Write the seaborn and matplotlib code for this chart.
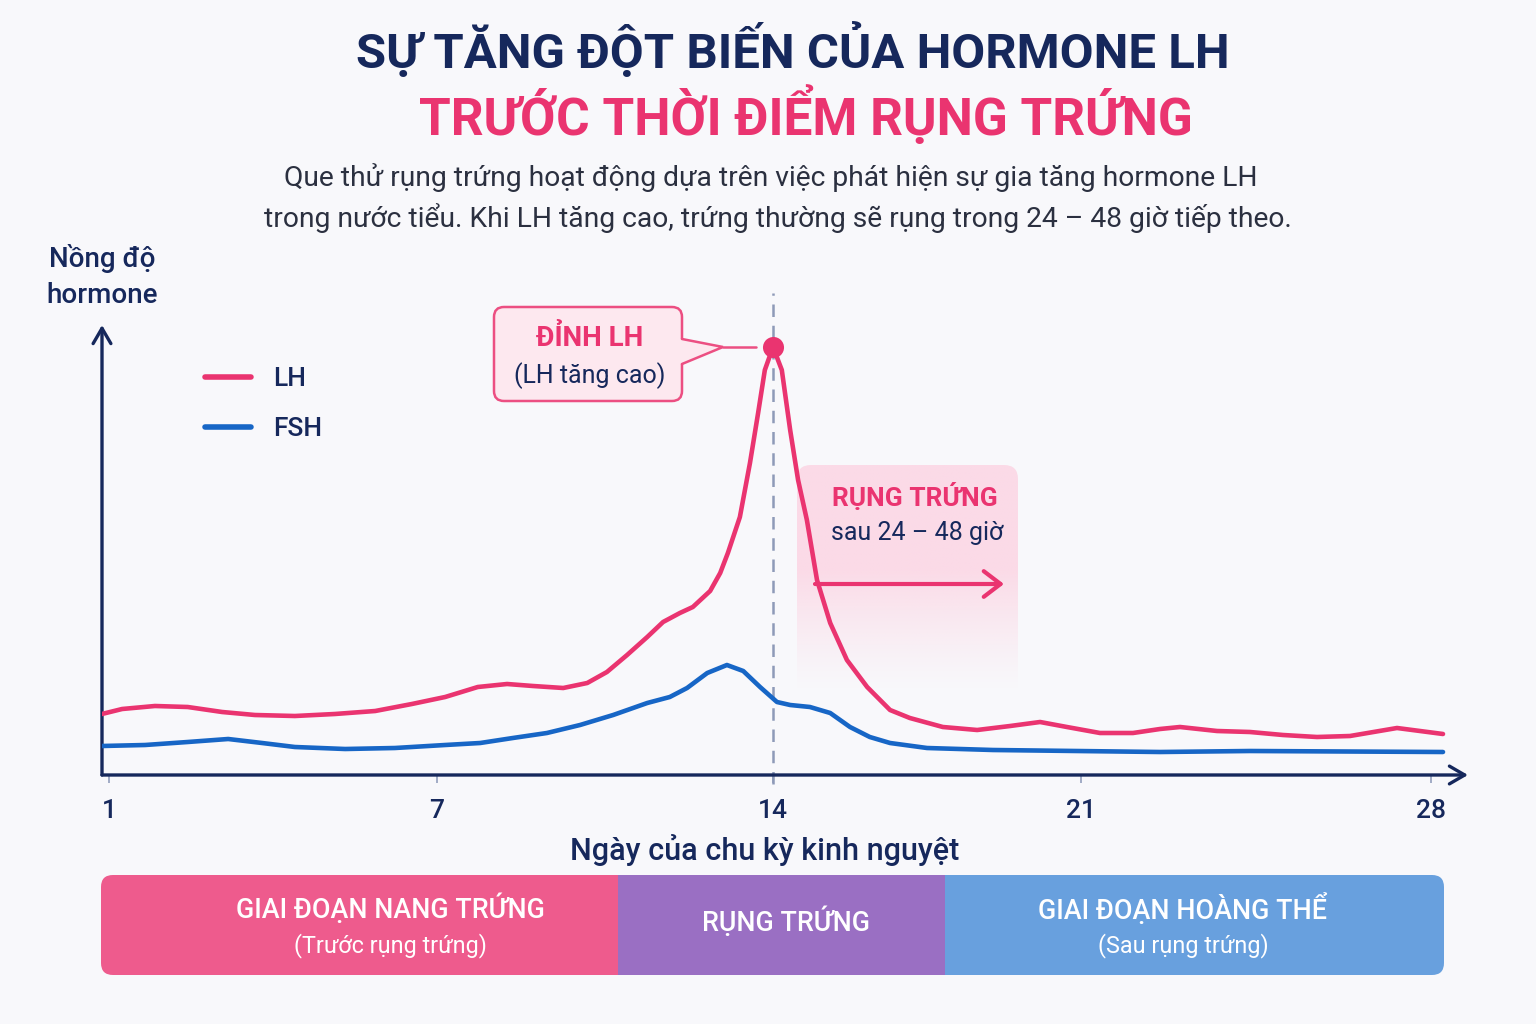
import numpy as np
import pandas as pd
import matplotlib
matplotlib.use("Agg")
import matplotlib.pyplot as plt
import matplotlib.colors as mcolors
import seaborn as sns
from matplotlib.patches import FancyBboxPatch, Polygon, Rectangle
from matplotlib.lines import Line2D

# ---------------- data ----------------
lh_days = [0.87, 1.24, 1.84, 2.44, 3.07, 3.67, 4.40, 5.13, 5.87, 6.54,
           7.17, 7.85, 8.46, 9.0, 9.63, 10.13, 10.54, 10.96, 11.38, 11.71,
           12.06, 12.33, 12.69, 12.90, 13.06, 13.31, 13.52, 13.69, 13.83, 14.0,
           14.20, 14.39, 14.57, 14.77, 15.0, 15.30, 15.68, 16.14, 16.66, 17.11,
           17.86, 18.64, 19.39, 20.07, 20.68, 21.38, 22.04, 22.58, 22.98, 23.72,
           24.38, 25.04, 25.72, 26.38, 27.32, 28.24]
lh_level = [61, 66, 69, 68, 63, 60, 59, 61, 64, 71,
            78, 88, 91, 89, 87, 92, 103, 120, 138, 153,
            162, 168, 184, 202, 222, 258, 312, 362, 405, 428,
            405, 345, 295, 255, 195, 152, 115, 88, 65, 57,
            48, 45, 49, 53, 48, 42, 42, 46, 48, 44,
            43, 40, 38, 39, 47, 41]
fsh_days = [0.87, 1.66, 2.44, 3.18, 3.80, 4.40, 5.32, 6.23, 7.17, 7.90,
            8.58, 9.29, 9.98, 10.67, 11.38, 11.85, 12.21, 12.63, 13.04, 13.38,
            13.73, 14.09, 14.39, 14.84, 15.30, 15.75, 16.20, 16.66, 17.50, 19.0,
            22.58, 24.38, 28.24]
fsh_level = [29, 30, 33, 36, 32, 28, 26, 27, 30, 32,
             37, 42, 50, 60, 72, 78, 87, 102, 110, 104,
             88, 73, 70, 68, 62, 48, 38, 32, 27, 25,
             23, 24, 23]
hormones = ["LH", "FSH"]
tick_days = [1, 7, 14, 21, 28]
tick_labels = ["1", "7", "14", "21", "28"]
peak_day = 14

title_line1 = "SỰ TĂNG ĐỘT BIẾN CỦA HORMONE LH"
title_line2 = "TRƯỚC THỜI ĐIỂM RỤNG TRỨNG"
subtitle_lines = [
    "Que thử rụng trứng hoạt động dựa trên việc phát hiện sự gia tăng hormone LH",
    "trong nước tiểu. Khi LH tăng cao, trứng thường sẽ rụng trong 24 – 48 giờ tiếp theo.",
]
y_label = "Nồng độ\nhormone"
x_label = "Ngày của chu kỳ kinh nguyệt"
peak_title, peak_sub = "ĐỈNH LH", "(LH tăng cao)"
ov_title, ov_sub = "RỤNG TRỨNG", "sau 24 – 48 giờ"
phase_titles = ["GIAI ĐOẠN NANG TRỨNG", "RỤNG TRỨNG", "GIAI ĐOẠN HOÀNG THỂ"]
phase_subtitles = ["(Trước rụng trứng)", "", "(Sau rụng trứng)"]

# ---------------- style ----------------
NAVY = "#16285c"
PINK = "#ea3470"
BLUE = "#1766c6"
BG = "#f8f8fb"
TXT = "#2b3040"
PHASE_COLORS = ["#ee5b8d", "#9a6fc3", "#68a0de"]

sns.set_theme(style="white")
plt.rcParams["font.family"] = ["Roboto", "DejaVu Sans"]

W, H = 1536, 1024
fig = plt.figure(figsize=(W / 100, H / 100), dpi=100, facecolor=BG)

# overlay axes in pixel coordinates (for decorations / layout)
ov = fig.add_axes([0, 0, 1, 1], zorder=0)
ov.set_autoscale_on(False)
ov.set_xlim(0, W)
ov.set_ylim(H, 0)
ov.axis("off")

# main chart axes
AX_L, AX_R, AX_B, AX_T = 102, 1468, 775, 325
ax = fig.add_axes([AX_L / W, 1 - AX_B / H, (AX_R - AX_L) / W, (AX_B - AX_T) / H], zorder=2)
ax.patch.set_alpha(0)

# the reference's day axis is not evenly spaced: piecewise-linear scale through the ticks
TICK_PX = [109, 437, 773, 1081, 1431]
_kd = np.array([0.0] + tick_days + [29.0])
_kp = np.array([TICK_PX[0] - 54.67] + TICK_PX + [TICK_PX[-1] + 50.0])


def fwd(x):
    return np.interp(x, _kd, _kp)


def inv(p):
    return np.interp(p, _kp, _kd)


ax.set_xscale("function", functions=(fwd, inv))

df = pd.concat([
    pd.DataFrame({"day": lh_days, "level": lh_level, "hormone": hormones[0]}),
    pd.DataFrame({"day": fsh_days, "level": fsh_level, "hormone": hormones[1]}),
])
palette = {"LH": PINK, "FSH": BLUE}
sns.lineplot(data=df, x="day", y="level", hue="hormone", palette=palette,
             estimator=None, sort=True, linewidth=3.3, legend=False, ax=ax, zorder=4)
for ln in ax.get_lines():
    ln.set_solid_joinstyle("round")
    ln.set_solid_capstyle("round")

ax.set_xlim(inv(AX_L), inv(AX_R))
ax.set_ylim(0, AX_B - AX_T)

# peak marker + dashed day-14 line
i_peak = int(np.argmax(lh_level))
ax.scatter([lh_days[i_peak]], [lh_level[i_peak]], s=230, color=PINK, zorder=6, linewidths=0)
ax.axvline(peak_day, ymin=-0.02, ymax=1.072, clip_on=False, color="#8e9ab8",
           lw=1.8, ls=(0, (5, 3.5)), zorder=1)

# axes: arrows instead of spines
for s in ax.spines.values():
    s.set_visible(False)
arrow_kw = dict(arrowstyle="->,head_length=0.55,head_width=0.32", color=NAVY, lw=2.4,
                shrinkA=0, shrinkB=0, mutation_scale=20)
ax.annotate("", xy=(1, 0), xytext=(0, 0), xycoords="axes fraction", arrowprops=arrow_kw)
ax.annotate("", xy=(0, 1), xytext=(0, 0), xycoords="axes fraction", arrowprops=arrow_kw)

ax.set_xticks(tick_days, tick_labels)
ax.set_yticks([])
ax.tick_params(axis="x", bottom=True, length=6, width=1.3, color="#9aa6c2", pad=11,
               labelsize=19, labelcolor=NAVY)
for t in ax.get_xticklabels():
    t.set_fontweight("medium")
ax.minorticks_off()

ax.set_xlabel(x_label, fontsize=22, color=NAVY, fontweight="medium", va="center")
ax.xaxis.set_label_coords((765 - AX_L) / (AX_R - AX_L), (AX_B - 850) / (AX_B - AX_T))
ax.set_ylabel(y_label, rotation=0, fontsize=20, color=NAVY, fontweight="medium",
              ha="center", va="bottom", linespacing=1.45)
ax.yaxis.set_label_coords(0, (AX_B - 309) / (AX_B - AX_T))

# legend
handles = [Line2D([0], [0], color=palette[h], lw=4, solid_capstyle="round") for h in hormones]
leg = ax.legend(handles, hormones, loc="upper left", frameon=False,
                bbox_to_anchor=(205 / W, 1 - 367 / H), bbox_transform=fig.transFigure,
                borderaxespad=0, borderpad=0, handlelength=1.75, handletextpad=0.85,
                labelspacing=1.0, fontsize=19)
for t in leg.get_texts():
    t.set_color(NAVY)
    t.set_fontweight("medium")

# ---------------- titles ----------------
ov.text(793, 50, title_line1, ha="center", va="center", fontsize=35.4, fontweight="bold", color=NAVY)
ov.text(806, 116, title_line2, ha="center", va="center", fontsize=37, fontweight="bold", color=PINK)
ov.text(771, 178, subtitle_lines[0], ha="center", va="center", fontsize=20.3, color=TXT)
ov.text(778, 218, subtitle_lines[1], ha="center", va="center", fontsize=20.3, color=TXT)

# ---------------- LH peak callout ----------------
cb = FancyBboxPatch((494, 307), 188, 94, boxstyle="round,pad=0,rounding_size=10",
                    fc="#fde8ef", ec="#ec4f82", lw=1.8, zorder=3)
ov.add_patch(cb)
ov.add_patch(Polygon([(680, 339), (723, 347), (680, 364)], closed=True, fc="#fde8ef",
                     ec="none", zorder=4))
ov.plot([682, 723, 682], [339, 347, 364], color="#ec4f82", lw=1.8, zorder=5,
        solid_joinstyle="miter")
ov.plot([723, 756], [347, 347], color="#ec4f82", lw=1.8, zorder=5)
ov.text(590, 339, peak_title, ha="center", va="center", fontsize=20, fontweight="bold",
        color=PINK, zorder=6)
ov.text(590, 376, peak_sub, ha="center", va="center", fontsize=18, color=NAVY, zorder=6)

# ---------------- ovulation box (fading) ----------------
bx0, bx1, by0, by1 = 797, 1018, 465, 690
n = 200
ys = np.linspace(by0, by1, n)
alpha = np.clip((by1 - ys) / (by1 - 570), 0, 1) ** 1.2 * 0.8
grad = np.zeros((n, 1, 4))
grad[..., :3] = mcolors.to_rgb("#fcd3e2")
grad[:, 0, 3] = alpha
im = ov.imshow(grad, extent=[bx0, bx1, by1, by0], aspect="auto", origin="upper",
               interpolation="bilinear", zorder=1)
clip = FancyBboxPatch((bx0, by0), bx1 - bx0, 400, boxstyle="round,pad=0,rounding_size=14",
                      fc="none", ec="none", transform=ov.transData)
ov.add_patch(clip)
im.set_clip_path(clip)
ov.text(915, 497, ov_title, ha="center", va="center", fontsize=19, fontweight="bold",
        color=PINK, zorder=6)
ov.text(917, 533, ov_sub, ha="center", va="center", fontsize=18, color=NAVY, zorder=6)
ov.annotate("", xy=(1004, 584), xytext=(815, 584),
            arrowprops=dict(arrowstyle="->,head_length=0.55,head_width=0.42", color=PINK,
                            lw=3, shrinkA=0, shrinkB=0, mutation_scale=22), zorder=6)

# ---------------- phase bands ----------------
band_y, band_h = 875, 100
band_edges = [101, 618, 945, 1444]
label_cx = [390, 786, 1183]
outer = FancyBboxPatch((band_edges[0], band_y), band_edges[-1] - band_edges[0], band_h,
                       boxstyle="round,pad=0,rounding_size=12", fc="none", ec="none")
ov.add_patch(outer)
for i, (t1, t2) in enumerate(zip(phase_titles, phase_subtitles)):
    x0, x1 = band_edges[i], band_edges[i + 1]
    r = Rectangle((x0, band_y), x1 - x0, band_h, fc=PHASE_COLORS[i], ec="none", zorder=2)
    ov.add_patch(r)
    r.set_clip_path(outer)
    cx = label_cx[i]
    if t2:
        ov.text(cx, 909, t1, ha="center", va="center", fontsize=19.4, fontweight="medium",
                color="white", zorder=3)
        ov.text(cx, 946, t2, ha="center", va="center", fontsize=16.8, color="white", zorder=3)
    else:
        ov.text(cx, 922, t1, ha="center", va="center", fontsize=19.4, fontweight="medium",
                color="white", zorder=3)

fig.savefig("out.png", dpi=100, facecolor=BG)
